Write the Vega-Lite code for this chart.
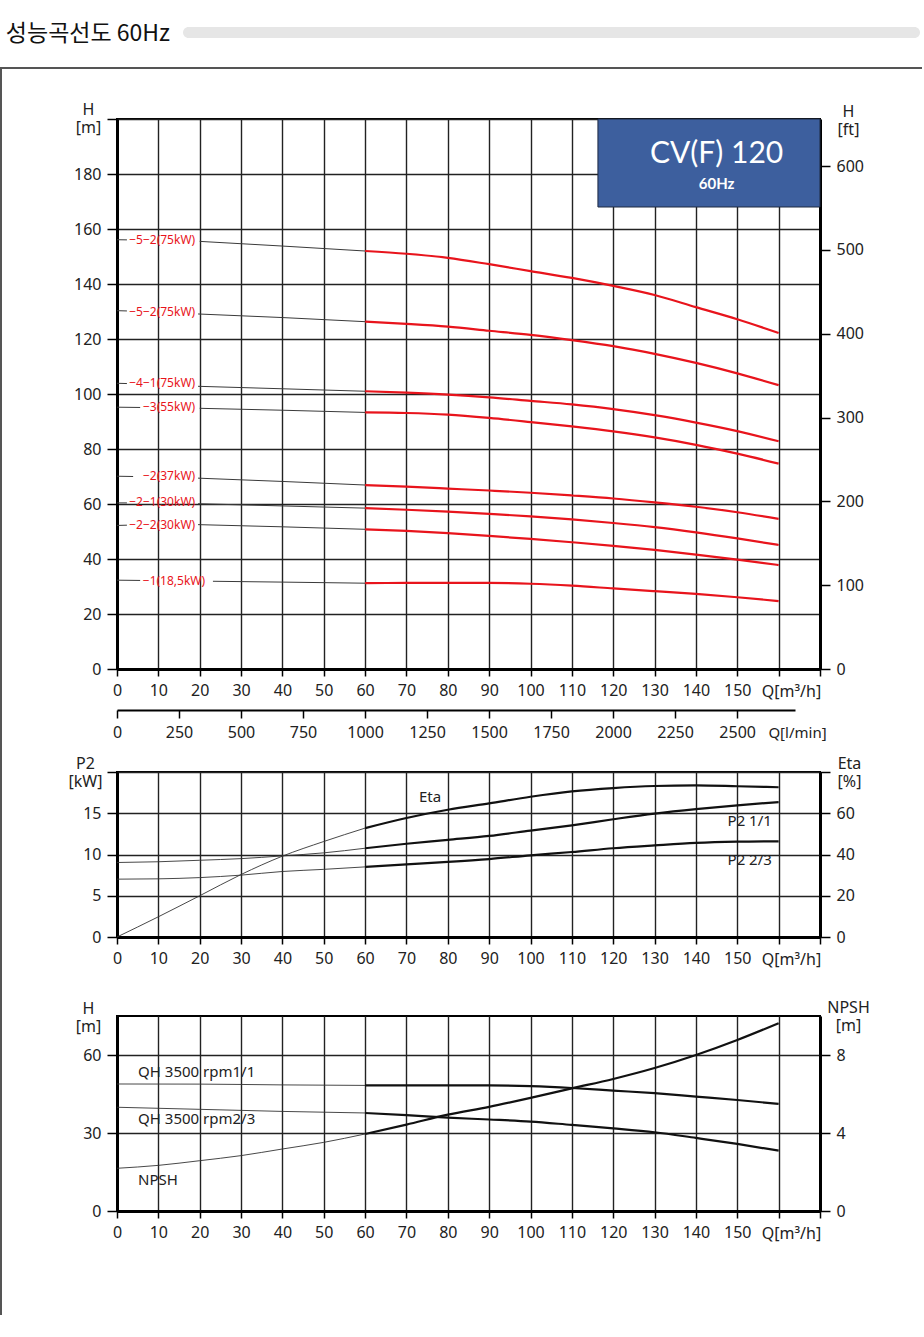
{
  "$schema": "https://vega.github.io/schema/vega-lite/v6.json",
  "padding": {"left": 0, "top": 22, "right": 0, "bottom": 0},
  "background": "white",
  "bounds": "flush",
  "spacing": 40,
  "datasets": {
    "top": [
      {"c":"A","s":"d","q":0,"h":156.1},{"c":"A","s":"d","q":2.4,"h":156.05},
      {"c":"A","s":"t","q":20,"h":155.5},{"c":"A","s":"t","q":40,"h":153.8},{"c":"A","s":"t","q":60,"h":152},
      {"c":"A","s":"r","q":60,"h":152},{"c":"A","s":"r","q":70,"h":151},{"c":"A","s":"r","q":80,"h":149.5},{"c":"A","s":"r","q":90,"h":147.2},{"c":"A","s":"r","q":100,"h":144.7},{"c":"A","s":"r","q":110,"h":142.2},{"c":"A","s":"r","q":120,"h":139.3},{"c":"A","s":"r","q":130,"h":136},{"c":"A","s":"r","q":140,"h":131.6},{"c":"A","s":"r","q":150,"h":127.2},{"c":"A","s":"r","q":160,"h":122.2},
      {"c":"B","s":"d","q":0,"h":130.3},{"c":"B","s":"d","q":2.4,"h":130.2},
      {"c":"B","s":"t","q":19.6,"h":129.1},{"c":"B","s":"t","q":40,"h":127.8},{"c":"B","s":"t","q":60,"h":126.3},
      {"c":"B","s":"r","q":60,"h":126.3},{"c":"B","s":"r","q":70,"h":125.5},{"c":"B","s":"r","q":80,"h":124.5},{"c":"B","s":"r","q":90,"h":123},{"c":"B","s":"r","q":100,"h":121.5},{"c":"B","s":"r","q":110,"h":119.6},{"c":"B","s":"r","q":120,"h":117.4},{"c":"B","s":"r","q":130,"h":114.6},{"c":"B","s":"r","q":140,"h":111.3},{"c":"B","s":"r","q":150,"h":107.5},{"c":"B","s":"r","q":160,"h":103.2},
      {"c":"C","s":"d","q":0,"h":103.9},{"c":"C","s":"d","q":2.4,"h":103.8},
      {"c":"C","s":"t","q":19.6,"h":102.8},{"c":"C","s":"t","q":40,"h":101.9},{"c":"C","s":"t","q":60,"h":101},
      {"c":"C","s":"r","q":60,"h":101},{"c":"C","s":"r","q":70,"h":100.5},{"c":"C","s":"r","q":80,"h":99.8},{"c":"C","s":"r","q":90,"h":98.8},{"c":"C","s":"r","q":100,"h":97.5},{"c":"C","s":"r","q":110,"h":96.2},{"c":"C","s":"r","q":120,"h":94.5},{"c":"C","s":"r","q":130,"h":92.3},{"c":"C","s":"r","q":140,"h":89.6},{"c":"C","s":"r","q":150,"h":86.5},{"c":"C","s":"r","q":160,"h":82.8},
      {"c":"D","s":"d","q":0,"h":95.2},{"c":"D","s":"d","q":5.6,"h":95.1},
      {"c":"D","s":"t","q":20,"h":94.8},{"c":"D","s":"t","q":40,"h":94.1},{"c":"D","s":"t","q":60,"h":93.3},
      {"c":"D","s":"r","q":60,"h":93.3},{"c":"D","s":"r","q":70,"h":93.1},{"c":"D","s":"r","q":80,"h":92.5},{"c":"D","s":"r","q":90,"h":91.3},{"c":"D","s":"r","q":100,"h":89.8},{"c":"D","s":"r","q":110,"h":88.2},{"c":"D","s":"r","q":120,"h":86.4},{"c":"D","s":"r","q":130,"h":84.2},{"c":"D","s":"r","q":140,"h":81.5},{"c":"D","s":"r","q":150,"h":78.3},{"c":"D","s":"r","q":160,"h":74.7},
      {"c":"E","s":"d","q":0,"h":70.1},{"c":"E","s":"d","q":3.9,"h":70},
      {"c":"E","s":"t","q":19.6,"h":69.4},{"c":"E","s":"t","q":40,"h":68.2},{"c":"E","s":"t","q":60,"h":66.9},
      {"c":"E","s":"r","q":60,"h":66.9},{"c":"E","s":"r","q":70,"h":66.3},{"c":"E","s":"r","q":80,"h":65.6},{"c":"E","s":"r","q":90,"h":64.9},{"c":"E","s":"r","q":100,"h":64.1},{"c":"E","s":"r","q":110,"h":63.1},{"c":"E","s":"r","q":120,"h":62},{"c":"E","s":"r","q":130,"h":60.6},{"c":"E","s":"r","q":140,"h":59},{"c":"E","s":"r","q":150,"h":57},{"c":"E","s":"r","q":160,"h":54.6},
      {"c":"F","s":"d","q":0,"h":60.4},{"c":"F","s":"d","q":2.4,"h":60.4},
      {"c":"F","s":"t","q":19.6,"h":60.1},{"c":"F","s":"t","q":40,"h":59.3},{"c":"F","s":"t","q":60,"h":58.5},
      {"c":"F","s":"r","q":60,"h":58.5},{"c":"F","s":"r","q":70,"h":57.9},{"c":"F","s":"r","q":80,"h":57.2},{"c":"F","s":"r","q":90,"h":56.4},{"c":"F","s":"r","q":100,"h":55.5},{"c":"F","s":"r","q":110,"h":54.4},{"c":"F","s":"r","q":120,"h":53.1},{"c":"F","s":"r","q":130,"h":51.6},{"c":"F","s":"r","q":140,"h":49.7},{"c":"F","s":"r","q":150,"h":47.5},{"c":"F","s":"r","q":160,"h":45.1},
      {"c":"G","s":"d","q":0,"h":52.2},{"c":"G","s":"d","q":2.4,"h":52.3},
      {"c":"G","s":"t","q":19.6,"h":52.5},{"c":"G","s":"t","q":40,"h":51.7},{"c":"G","s":"t","q":60,"h":50.8},
      {"c":"G","s":"r","q":60,"h":50.8},{"c":"G","s":"r","q":70,"h":50.2},{"c":"G","s":"r","q":80,"h":49.4},{"c":"G","s":"r","q":90,"h":48.4},{"c":"G","s":"r","q":100,"h":47.3},{"c":"G","s":"r","q":110,"h":46.1},{"c":"G","s":"r","q":120,"h":44.8},{"c":"G","s":"r","q":130,"h":43.3},{"c":"G","s":"r","q":140,"h":41.6},{"c":"G","s":"r","q":150,"h":39.8},{"c":"G","s":"r","q":160,"h":37.8},
      {"c":"H","s":"d","q":0,"h":32.3},{"c":"H","s":"d","q":5.6,"h":32.2},
      {"c":"H","s":"t","q":23.2,"h":31.9},{"c":"H","s":"t","q":40,"h":31.6},{"c":"H","s":"t","q":60,"h":31.2},
      {"c":"H","s":"r","q":60,"h":31.2},{"c":"H","s":"r","q":70,"h":31.3},{"c":"H","s":"r","q":80,"h":31.3},{"c":"H","s":"r","q":90,"h":31.3},{"c":"H","s":"r","q":100,"h":31},{"c":"H","s":"r","q":110,"h":30.3},{"c":"H","s":"r","q":120,"h":29.3},{"c":"H","s":"r","q":130,"h":28.3},{"c":"H","s":"r","q":140,"h":27.3},{"c":"H","s":"r","q":150,"h":26.1},{"c":"H","s":"r","q":160,"h":24.7}
    ],
    "toplab": [
      {"t":"−5−2(75kW)","q":18.9,"h":156.1},
      {"t":"−5−2(75kW)","q":18.9,"h":129.9},
      {"t":"−4−1(75kW)","q":18.9,"h":103.9},
      {"t":"−3(55kW)","q":18.9,"h":95.2},
      {"t":"−2(37kW)","q":18.9,"h":70.1},
      {"t":"−2−1(30kW)","q":18.9,"h":60.6},
      {"t":"−2−2(30kW)","q":18.9,"h":52.5},
      {"t":"−1(18,5kW)","q":21.3,"h":32.1}
    ],
    "p2": [
      {"s":"P1","p":"t","q":0,"v":9.03},{"s":"P1","p":"t","q":10,"v":9.12},{"s":"P1","p":"t","q":20,"v":9.3},{"s":"P1","p":"t","q":30,"v":9.5},{"s":"P1","p":"t","q":40,"v":9.83},{"s":"P1","p":"t","q":50,"v":10.2},{"s":"P1","p":"t","q":60,"v":10.76},
      {"s":"P1","p":"k","q":60,"v":10.76},{"s":"P1","p":"k","q":70,"v":11.3},{"s":"P1","p":"k","q":80,"v":11.77},{"s":"P1","p":"k","q":90,"v":12.25},{"s":"P1","p":"k","q":100,"v":12.9},{"s":"P1","p":"k","q":110,"v":13.54},{"s":"P1","p":"k","q":120,"v":14.27},{"s":"P1","p":"k","q":130,"v":14.95},{"s":"P1","p":"k","q":140,"v":15.5},{"s":"P1","p":"k","q":150,"v":15.96},{"s":"P1","p":"k","q":160,"v":16.36},
      {"s":"P2","p":"t","q":0,"v":7.01},{"s":"P2","p":"t","q":10,"v":7.05},{"s":"P2","p":"t","q":20,"v":7.2},{"s":"P2","p":"t","q":30,"v":7.5},{"s":"P2","p":"t","q":40,"v":7.94},{"s":"P2","p":"t","q":50,"v":8.2},{"s":"P2","p":"t","q":60,"v":8.5},
      {"s":"P2","p":"k","q":60,"v":8.5},{"s":"P2","p":"k","q":70,"v":8.8},{"s":"P2","p":"k","q":80,"v":9.1},{"s":"P2","p":"k","q":90,"v":9.45},{"s":"P2","p":"k","q":100,"v":9.9},{"s":"P2","p":"k","q":110,"v":10.3},{"s":"P2","p":"k","q":120,"v":10.76},{"s":"P2","p":"k","q":130,"v":11.1},{"s":"P2","p":"k","q":140,"v":11.4},{"s":"P2","p":"k","q":150,"v":11.55},{"s":"P2","p":"k","q":160,"v":11.6}
    ],
    "p2lab": [
      {"t":"Eta","q":75.7,"v":17.0},
      {"t":"P2 1/1","q":153,"v":14.06},
      {"t":"P2 2/3","q":153,"v":9.33}
    ],
    "eta": [
      {"p":"t","q":0,"v":0},{"p":"t","q":10,"v":9.8},{"p":"t","q":20,"v":20},{"p":"t","q":30,"v":30.3},{"p":"t","q":40,"v":39.2},{"p":"t","q":50,"v":46.3},{"p":"t","q":60,"v":52.8},
      {"p":"k","q":60,"v":52.8},{"p":"k","q":70,"v":57.7},{"p":"k","q":80,"v":61.7},{"p":"k","q":90,"v":64.8},{"p":"k","q":100,"v":68},{"p":"k","q":110,"v":70.6},{"p":"k","q":120,"v":72.2},{"p":"k","q":130,"v":73.2},{"p":"k","q":140,"v":73.5},{"p":"k","q":150,"v":73.1},{"p":"k","q":160,"v":72.6}
    ],
    "qh": [
      {"s":"Q1","p":"t","q":0,"v":48.85},{"s":"Q1","p":"t","q":20,"v":48.8},{"s":"Q1","p":"t","q":40,"v":48.5},{"s":"Q1","p":"t","q":60,"v":48.3},
      {"s":"Q1","p":"k","q":60,"v":48.3},{"s":"Q1","p":"k","q":70,"v":48.35},{"s":"Q1","p":"k","q":80,"v":48.35},{"s":"Q1","p":"k","q":90,"v":48.3},{"s":"Q1","p":"k","q":100,"v":48},{"s":"Q1","p":"k","q":110,"v":47.3},{"s":"Q1","p":"k","q":120,"v":46.3},{"s":"Q1","p":"k","q":130,"v":45.3},{"s":"Q1","p":"k","q":140,"v":44},{"s":"Q1","p":"k","q":150,"v":42.7},{"s":"Q1","p":"k","q":160,"v":41.2},
      {"s":"Q2","p":"t","q":0,"v":39.9},{"s":"Q2","p":"t","q":20,"v":39.1},{"s":"Q2","p":"t","q":40,"v":38.3},{"s":"Q2","p":"t","q":60,"v":37.7},
      {"s":"Q2","p":"k","q":60,"v":37.7},{"s":"Q2","p":"k","q":70,"v":36.9},{"s":"Q2","p":"k","q":80,"v":35.9},{"s":"Q2","p":"k","q":90,"v":35.2},{"s":"Q2","p":"k","q":100,"v":34.4},{"s":"Q2","p":"k","q":110,"v":33.1},{"s":"Q2","p":"k","q":120,"v":31.8},{"s":"Q2","p":"k","q":130,"v":30.3},{"s":"Q2","p":"k","q":140,"v":28.1},{"s":"Q2","p":"k","q":150,"v":25.8},{"s":"Q2","p":"k","q":160,"v":23.2}
    ],
    "qhlab": [
      {"t":"QH 3500 rpm1/1","q":5.1,"v":53.5},
      {"t":"QH 3500 rpm2/3","q":5.1,"v":35.4},
      {"t":"NPSH","q":5.1,"v":11.9}
    ],
    "npsh": [
      {"p":"t","q":0,"v":2.19},{"p":"t","q":10,"v":2.34},{"p":"t","q":20,"v":2.58},{"p":"t","q":30,"v":2.84},{"p":"t","q":40,"v":3.18},{"p":"t","q":50,"v":3.52},{"p":"t","q":60,"v":3.95},
      {"p":"k","q":60,"v":3.95},{"p":"k","q":70,"v":4.43},{"p":"k","q":80,"v":4.94},{"p":"k","q":90,"v":5.34},{"p":"k","q":100,"v":5.8},{"p":"k","q":110,"v":6.29},{"p":"k","q":120,"v":6.77},{"p":"k","q":130,"v":7.33},{"p":"k","q":140,"v":8.0},{"p":"k","q":150,"v":8.77},{"p":"k","q":160,"v":9.63}
    ],
    "box": [{"title":"CV(F) 120","sub":"60Hz"}]
  },
  "vconcat": [
    {
      "hconcat": [
        {"width": 183, "height": 11, "view": {"stroke": null}, "data": {"values": []}, "mark": {"type": "point", "opacity": 0}, "encoding": {}},
        {
          "width": 737, "height": 11,
          "view": {"fill": "#e6e6e6", "stroke": null, "cornerRadius": 5.5},
          "title": {"text": "성능곡선도 60Hz", "orient": "top", "anchor": "start", "frame": "group", "align": "right", "baseline": "middle", "offset": -24, "dx": -13, "dy": 5.5, "font": "Noto Sans CJK KR", "fontSize": 23, "fontWeight": "normal", "color": "#111"},
          "data": {"values": []},
          "mark": {"type": "point", "opacity": 0},
          "encoding": {}
        }
      ],
      "spacing": 0,
      "bounds": "flush"
    },
    {
      "vconcat": [
        {"width": 922, "height": 1, "view": {"fill": "#555", "stroke": null}, "data": {"values": []}, "mark": {"type": "point", "opacity": 0}, "encoding": {}},
        {
          "hconcat": [
            {"width": 1, "height": 1247, "view": {"fill": "#555", "stroke": null}, "data": {"values": []}, "mark": {"type": "point", "opacity": 0}, "encoding": {}},
            {
              "vconcat": [
                {"width": 10, "height": 51, "view": {"stroke": null}, "data": {"values": []}, "mark": {"type": "point", "opacity": 0}, "encoding": {}},
                {
                  "hconcat": [
                    {"width": 116, "height": 10, "view": {"stroke": null}, "data": {"values": []}, "mark": {"type": "point", "opacity": 0}, "encoding": {}},
                    {
                      "vconcat": [
                        {
                          "width": 703, "height": 550,
                          "view": {"stroke": "#000", "strokeWidth": 2},
                          "resolve": {"scale": {"x": "independent", "y": "independent"}},
                          "layer": [
                            {
                              "layer": [
                                {
                                  "data": {"name": "top"},
                                  "transform": [{"filter": "datum.s != 'r'"}],
                                  "mark": {"type": "line", "interpolate": "monotone", "color": "#3a3a3a", "strokeWidth": 1},
                                  "encoding": {
                                    "x": {"field": "q", "type": "quantitative", "scale": {"domain": [0, 170], "nice": false},
                                      "axis": {"values": [0,10,20,30,40,50,60,70,80,90,100,110,120,130,140,150,160,170], "labelExpr": "datum.value <= 150 ? datum.label : ''", "grid": true, "title": "Q[m³/h]", "titleX": 674, "titleY": 22, "labelFlush": false, "labelOverlap": false}},
                                    "y": {"field": "h", "type": "quantitative", "scale": {"domain": [0, 200], "nice": false},
                                      "axis": {"values": [0,10,20,30,40,50,60,70,80,90,100,110,120,130,140,150,160,170,180,190,200], "labelExpr": "datum.value % 20 == 0 && datum.value < 200 ? datum.label : ''", "grid": true, "title": ["H", "[m]"], "titleX": -29, "titleY": -10, "labelOverlap": false, "labelFlush": false}},
                                    "detail": [{"field": "c"}, {"field": "s"}]
                                  }
                                },
                                {
                                  "data": {"name": "top"},
                                  "transform": [{"filter": "datum.s == 'r'"}],
                                  "mark": {"type": "line", "interpolate": "monotone", "color": "#e8141c", "strokeWidth": 2.2},
                                  "encoding": {
                                    "x": {"field": "q", "type": "quantitative", "scale": {"domain": [0, 170], "nice": false}},
                                    "y": {"field": "h", "type": "quantitative", "scale": {"domain": [0, 200], "nice": false}},
                                    "detail": {"field": "c"}
                                  }
                                },
                                {
                                  "data": {"name": "toplab"},
                                  "mark": {"type": "text", "align": "right", "baseline": "middle", "fontSize": 12, "color": "#e8141c", "font": "Noto Sans"},
                                  "encoding": {
                                    "x": {"field": "q", "type": "quantitative", "scale": {"domain": [0, 170], "nice": false}},
                                    "y": {"field": "h", "type": "quantitative", "scale": {"domain": [0, 200], "nice": false}},
                                    "text": {"field": "t"}
                                  }
                                },
                                {
                                  "data": {"name": "box"},
                                  "mark": {"type": "rect", "fill": "#3d5f9e", "stroke": "#1e2a40", "strokeWidth": 1},
                                  "encoding": {
                                    "x": {"datum": 116.3, "type": "quantitative", "scale": {"domain": [0, 170], "nice": false}},
                                    "x2": {"datum": 170},
                                    "y": {"datum": 168.0, "type": "quantitative", "scale": {"domain": [0, 200], "nice": false}},
                                    "y2": {"datum": 200}
                                  }
                                },
                                {
                                  "data": {"name": "box"},
                                  "mark": {"type": "text", "align": "center", "baseline": "middle", "fontSize": 30, "color": "white", "font": "Lato"},
                                  "encoding": {
                                    "x": {"datum": 145, "type": "quantitative", "scale": {"domain": [0, 170], "nice": false}},
                                    "y": {"datum": 187.2, "type": "quantitative", "scale": {"domain": [0, 200], "nice": false}},
                                    "text": {"field": "title"}
                                  }
                                },
                                {
                                  "data": {"name": "box"},
                                  "mark": {"type": "text", "align": "center", "baseline": "middle", "fontSize": 15, "fontWeight": "bold", "color": "white", "font": "Lato"},
                                  "encoding": {
                                    "x": {"datum": 145, "type": "quantitative", "scale": {"domain": [0, 170], "nice": false}},
                                    "y": {"datum": 176.3, "type": "quantitative", "scale": {"domain": [0, 200], "nice": false}},
                                    "text": {"field": "sub"}
                                  }
                                }
                              ]
                            },
                            {
                              "data": {"values": [{}]},
                              "mark": {"type": "point", "opacity": 0},
                              "encoding": {
                                "y": {"datum": 0, "type": "quantitative", "scale": {"domain": [0, 656.17], "nice": false},
                                  "axis": {"orient": "right", "values": [0,100,200,300,400,500,600], "grid": false, "title": ["H", "[ft]"], "titleX": 28, "titleY": -8, "labelOverlap": false, "labelFlush": false}}
                              }
                            },
                            {
                              "data": {"values": [{}]},
                              "mark": {"type": "point", "opacity": 0},
                              "encoding": {
                                "x": {"datum": 0, "type": "quantitative", "scale": {"domain": [0, 2733.3], "range": [0, 678], "nice": false},
                                  "axis": {"orient": "bottom", "offset": 41, "values": [0,250,500,750,1000,1250,1500,1750,2000,2250,2500], "format": "d", "grid": false, "domainWidth": 2, "tickSize": 8, "title": "Q[l/min]", "titleX": 680, "titleY": 22, "titleFontSize": 15, "labelFlush": false, "labelOverlap": false}}
                              }
                            }
                          ]
                        },
                        {
                          "vconcat": [
                            {
                              "width": 703, "height": 165,
                              "view": {"stroke": "#000", "strokeWidth": 2},
                              "resolve": {"scale": {"y": "independent"}},
                              "layer": [
                                {
                                  "layer": [
                                    {
                                      "data": {"name": "p2"},
                                      "transform": [{"filter": "datum.p == 't'"}],
                                      "mark": {"type": "line", "interpolate": "monotone", "color": "#333", "strokeWidth": 0.9},
                                      "encoding": {
                                        "x": {"field": "q", "type": "quantitative", "scale": {"domain": [0, 170], "nice": false},
                                          "axis": {"values": [0,10,20,30,40,50,60,70,80,90,100,110,120,130,140,150,160,170], "labelExpr": "datum.value <= 150 ? datum.label : ''", "grid": true, "title": "Q[m³/h]", "titleX": 674, "titleY": 22, "labelFlush": false, "labelOverlap": false}},
                                        "y": {"field": "v", "type": "quantitative", "scale": {"domain": [0, 20], "nice": false},
                                          "axis": {"values": [0,5,10,15,20], "labelExpr": "datum.value < 20 ? datum.label : ''", "grid": true, "title": ["P2", "[kW]"], "titleX": -32, "titleY": -9, "labelOverlap": false, "labelFlush": false}},
                                        "detail": {"field": "s"}
                                      }
                                    },
                                    {
                                      "data": {"name": "p2"},
                                      "transform": [{"filter": "datum.p == 'k'"}],
                                      "mark": {"type": "line", "interpolate": "monotone", "color": "#111", "strokeWidth": 2.2},
                                      "encoding": {
                                        "x": {"field": "q", "type": "quantitative", "scale": {"domain": [0, 170], "nice": false}},
                                        "y": {"field": "v", "type": "quantitative", "scale": {"domain": [0, 20], "nice": false}},
                                        "detail": {"field": "s"}
                                      }
                                    },
                                    {
                                      "data": {"name": "p2lab"},
                                      "mark": {"type": "text", "align": "center", "baseline": "middle", "fontSize": 15, "color": "#222", "font": "Noto Sans"},
                                      "encoding": {
                                        "x": {"field": "q", "type": "quantitative", "scale": {"domain": [0, 170], "nice": false}},
                                        "y": {"field": "v", "type": "quantitative", "scale": {"domain": [0, 20], "nice": false}},
                                        "text": {"field": "t"}
                                      }
                                    }
                                  ]
                                },
                                {
                                  "layer": [
                                    {
                                      "data": {"name": "eta"},
                                      "transform": [{"filter": "datum.p == 't'"}],
                                      "mark": {"type": "line", "interpolate": "monotone", "color": "#333", "strokeWidth": 0.9},
                                      "encoding": {
                                        "x": {"field": "q", "type": "quantitative", "scale": {"domain": [0, 170], "nice": false}},
                                        "y": {"field": "v", "type": "quantitative", "scale": {"domain": [0, 80], "nice": false},
                                          "axis": {"orient": "right", "values": [0,20,40,60,80], "labelExpr": "datum.value < 80 ? datum.label : ''", "grid": false, "title": ["Eta", "[%]"], "titleX": 29, "titleY": -9, "labelOverlap": false, "labelFlush": false}}
                                      }
                                    },
                                    {
                                      "data": {"name": "eta"},
                                      "transform": [{"filter": "datum.p == 'k'"}],
                                      "mark": {"type": "line", "interpolate": "monotone", "color": "#111", "strokeWidth": 2.2},
                                      "encoding": {
                                        "x": {"field": "q", "type": "quantitative", "scale": {"domain": [0, 170], "nice": false}},
                                        "y": {"field": "v", "type": "quantitative", "scale": {"domain": [0, 80], "nice": false}}
                                      }
                                    }
                                  ]
                                }
                              ]
                            },
                            {
                              "width": 703, "height": 195,
                              "view": {"stroke": "#000", "strokeWidth": 2},
                              "resolve": {"scale": {"y": "independent"}},
                              "layer": [
                                {
                                  "layer": [
                                    {
                                      "data": {"name": "qh"},
                                      "transform": [{"filter": "datum.p == 't'"}],
                                      "mark": {"type": "line", "interpolate": "monotone", "color": "#333", "strokeWidth": 0.9},
                                      "encoding": {
                                        "x": {"field": "q", "type": "quantitative", "scale": {"domain": [0, 170], "nice": false},
                                          "axis": {"values": [0,10,20,30,40,50,60,70,80,90,100,110,120,130,140,150,160,170], "labelExpr": "datum.value <= 150 ? datum.label : ''", "grid": true, "title": "Q[m³/h]", "titleX": 674, "titleY": 22, "labelFlush": false, "labelOverlap": false}},
                                        "y": {"field": "v", "type": "quantitative", "scale": {"domain": [0, 75], "nice": false},
                                          "axis": {"values": [0,15,30,45,60,75], "labelExpr": "datum.value < 75 ? datum.label : ''", "grid": true, "title": ["H", "[m]"], "titleX": -29, "titleY": -8, "labelOverlap": false, "labelFlush": false}},
                                        "detail": {"field": "s"}
                                      }
                                    },
                                    {
                                      "data": {"name": "qh"},
                                      "transform": [{"filter": "datum.p == 'k'"}],
                                      "mark": {"type": "line", "interpolate": "monotone", "color": "#111", "strokeWidth": 2.2},
                                      "encoding": {
                                        "x": {"field": "q", "type": "quantitative", "scale": {"domain": [0, 170], "nice": false}},
                                        "y": {"field": "v", "type": "quantitative", "scale": {"domain": [0, 75], "nice": false}},
                                        "detail": {"field": "s"}
                                      }
                                    },
                                    {
                                      "data": {"name": "qhlab"},
                                      "mark": {"type": "text", "align": "left", "baseline": "middle", "fontSize": 15, "color": "#222", "font": "Noto Sans"},
                                      "encoding": {
                                        "x": {"field": "q", "type": "quantitative", "scale": {"domain": [0, 170], "nice": false}},
                                        "y": {"field": "v", "type": "quantitative", "scale": {"domain": [0, 75], "nice": false}},
                                        "text": {"field": "t"}
                                      }
                                    }
                                  ]
                                },
                                {
                                  "layer": [
                                    {
                                      "data": {"name": "npsh"},
                                      "transform": [{"filter": "datum.p == 't'"}],
                                      "mark": {"type": "line", "interpolate": "monotone", "color": "#333", "strokeWidth": 0.9},
                                      "encoding": {
                                        "x": {"field": "q", "type": "quantitative", "scale": {"domain": [0, 170], "nice": false}},
                                        "y": {"field": "v", "type": "quantitative", "scale": {"domain": [0, 10], "nice": false},
                                          "axis": {"orient": "right", "values": [0,2,4,6,8,10], "labelExpr": "datum.value < 10 ? datum.label : ''", "grid": false, "title": ["NPSH", "[m]"], "titleX": 28, "titleY": -9, "labelOverlap": false, "labelFlush": false}}
                                      }
                                    },
                                    {
                                      "data": {"name": "npsh"},
                                      "transform": [{"filter": "datum.p == 'k'"}],
                                      "mark": {"type": "line", "interpolate": "monotone", "color": "#111", "strokeWidth": 2.2},
                                      "encoding": {
                                        "x": {"field": "q", "type": "quantitative", "scale": {"domain": [0, 170], "nice": false}},
                                        "y": {"field": "v", "type": "quantitative", "scale": {"domain": [0, 10], "nice": false}}
                                      }
                                    }
                                  ]
                                }
                              ]
                            }
                          ],
                          "spacing": 79,
                          "bounds": "flush"
                        }
                      ],
                      "spacing": 103,
                      "bounds": "flush"
                    },
                    {"width": 101, "height": 10, "view": {"stroke": null}, "data": {"values": []}, "mark": {"type": "point", "opacity": 0}, "encoding": {}}
                  ],
                  "spacing": 0,
                  "bounds": "flush"
                }
              ],
              "spacing": 0,
              "bounds": "flush"
            },
            {"width": 1, "height": 1247, "view": {"fill": "#555", "stroke": null}, "data": {"values": []}, "mark": {"type": "point", "opacity": 0}, "encoding": {}}
          ],
          "spacing": 0,
          "bounds": "flush"
        },
        {"width": 922, "height": 1, "view": {"fill": "#555", "stroke": null}, "data": {"values": []}, "mark": {"type": "point", "opacity": 0}, "encoding": {}}
      ],
      "spacing": 0,
      "bounds": "flush"
    }
  ],
  "config": {
    "view": {"stroke": null},
    "font": "Noto Sans",
    "axis": {
      "labelFont": "Noto Sans", "labelFontSize": 16, "labelColor": "#222",
      "titleFont": "Noto Sans", "titleFontSize": 16, "titleFontWeight": "normal", "titleColor": "#222",
      "titleAngle": 0, "titleAlign": "center", "titleBaseline": "middle", "titleLineHeight": 18,
      "domainColor": "#000", "domainWidth": 3,
      "tickColor": "#000", "tickWidth": 1.5,
      "gridColor": "#222", "gridWidth": 1.4, "gridOpacity": 1,
      "labelPadding": 6
    },
    "axisX": {"tickSize": 7},
    "axisY": {"tickSize": 10}
  }
}
